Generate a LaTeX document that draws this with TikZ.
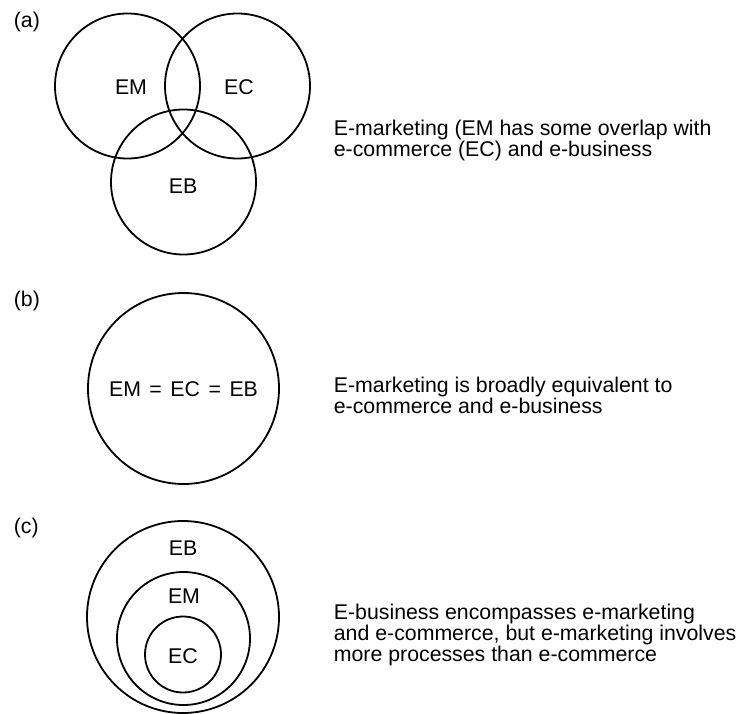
\documentclass[tikz,border=0pt]{standalone}
\usepackage{fontspec}
\setmainfont{Liberation Sans}
\begin{document}
\begin{tikzpicture}[x=1pt, y=-1pt, line width=1.8pt]
        \tikzset{
           ring/.style={
                        circle,
                        draw=black,
                        fill=none,
                        inner sep=0pt,
                        minimum size=#1
                       },
           word/.style={
                        inner sep=0pt,
                        text=black,
                        font=\fontsize{21.3}{21}\selectfont
                       },
           note/.style={
                        word,
                        anchor=base west,
                        align=left
                       },
                 };
        \useasboundingbox (0,0) rectangle (737,713);
        %---------------- (a)
        \node[note] (tagA) at (13,27.5) {(a)};
        \node[ring=145pt] (emA) at (127.5,86) {};
        \node[ring=145pt] (ecA) at (237.5,86) {};
        \node[ring=145pt] (ebA) at (183.5,182) {};
        \node[word] (emAtxt) at (131,87) {EM};
        \node[word] (ecAtxt) at (239,87) {EC};
        \node[word] (ebAtxt) at (183,186) {EB};
        \node[note] (noteA) at (333,156) {E-marketing (EM has some overlap with\\e-commerce (EC) and e-business};
        %---------------- (b)
        \node[note] (tagB) at (13,306) {(b)};
        \node[ring=191pt] (allB) at (183.5,388.5) {};
        \node[word] (allBtxt) at (183.5,389.5) {EM\hspace{0.4em}=\hspace{0.4em}EC\hspace{0.4em}=\hspace{0.4em}EB};
        \node[note] (noteB) at (333,413) {E-marketing is broadly equivalent to\\e-commerce and e-business};
        %---------------- (c)
        \node[note] (tagC) at (13,533.5) {(c)};
        \node[ring=192pt] (ebC) at (183,617) {};
        \node[ring=133pt] (emC) at (183.5,638.5) {};
        \node[ring=76pt] (ecC) at (183,654.5) {};
        \node[word] (ebCtxt) at (183,548) {EB};
        \node[word] (emCtxt) at (184,596) {EM};
        \node[word] (ecCtxt) at (183,656) {EC};
        \node[note] (noteC) at (333,661) {E-business encompasses e-marketing\\and e-commerce, but e-marketing involves\\more processes than e-commerce};
\end{tikzpicture}
\end{document}
